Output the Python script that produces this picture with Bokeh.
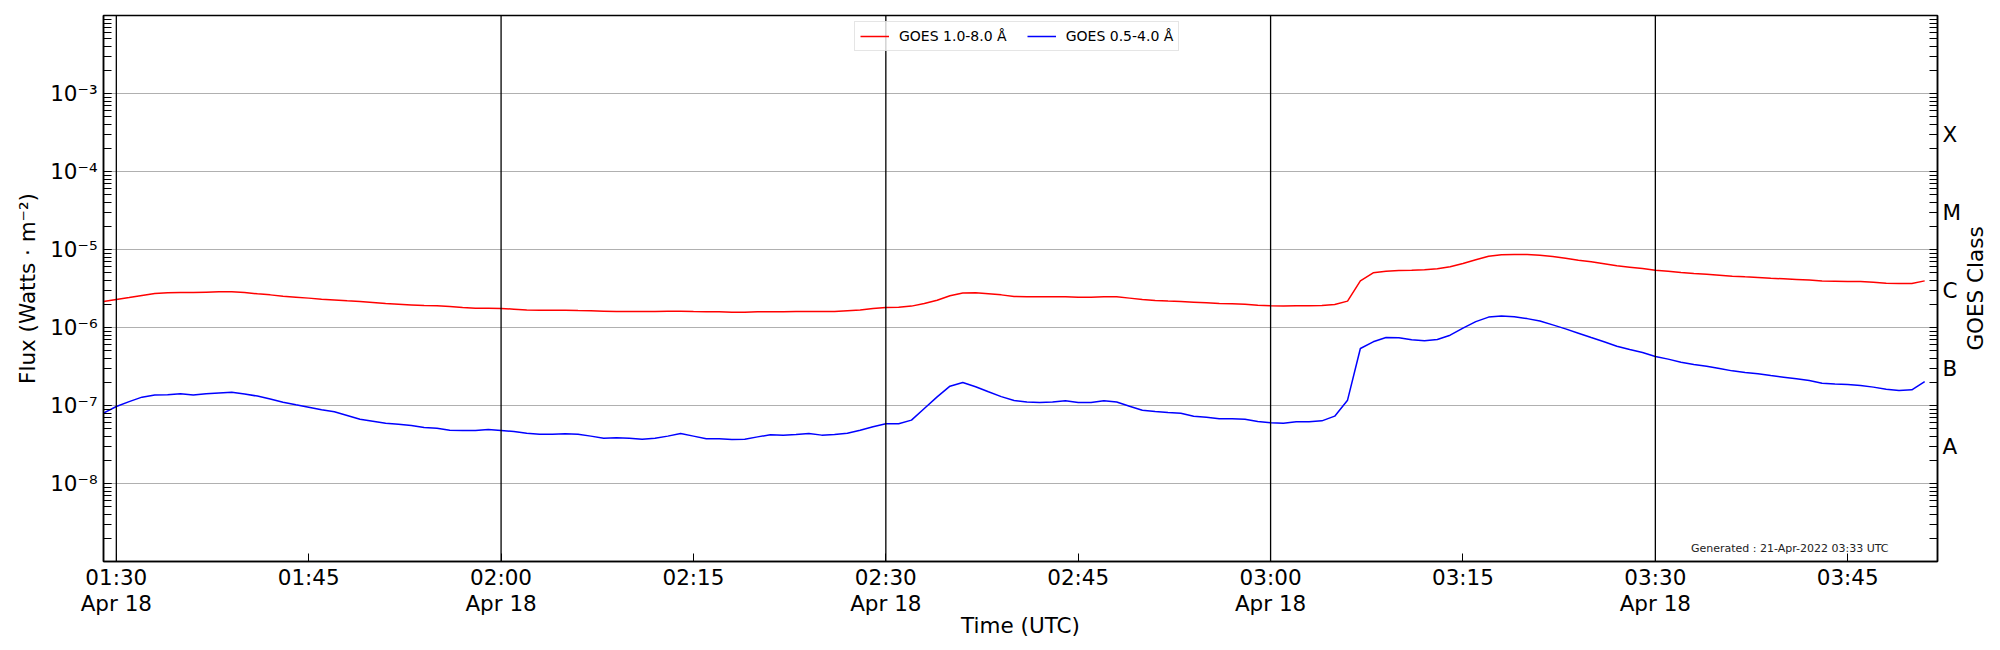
import math
import pandas as pd
from bokeh.plotting import figure
from bokeh.layouts import row
from bokeh.models import (LogAxis, FixedTicker, Span, Label, Legend, LegendItem,
                          ColumnDataSource, Range1d)
from bokeh.embed import file_html
from bokeh.resources import INLINE

# ---------------- data ----------------
start_time = "2022-04-18 01:29"
n_samples = 143  # one-minute cadence, 01:29 .. 03:51

xrs_long = [  # GOES 1.0-8.0 Å (W m^-2)
    2.15e-6, 2.29e-6, 2.42e-6, 2.57e-6, 2.73e-6, 2.78e-6, 2.81e-6, 2.81e-6, 2.84e-6, 2.87e-6,
    2.87e-6, 2.81e-6, 2.70e-6, 2.62e-6, 2.52e-6, 2.45e-6, 2.38e-6, 2.31e-6, 2.26e-6, 2.20e-6,
    2.15e-6, 2.09e-6, 2.03e-6, 1.99e-6, 1.95e-6, 1.91e-6, 1.90e-6, 1.86e-6, 1.81e-6, 1.77e-6,
    1.77e-6, 1.75e-6, 1.72e-6, 1.68e-6, 1.67e-6, 1.67e-6, 1.67e-6, 1.65e-6, 1.64e-6, 1.62e-6,
    1.60e-6, 1.60e-6, 1.60e-6, 1.60e-6, 1.62e-6, 1.62e-6, 1.60e-6, 1.59e-6, 1.59e-6, 1.57e-6,
    1.57e-6, 1.59e-6, 1.59e-6, 1.59e-6, 1.60e-6, 1.60e-6, 1.60e-6, 1.60e-6, 1.64e-6, 1.68e-6,
    1.75e-6, 1.81e-6, 1.82e-6, 1.88e-6, 2.03e-6, 2.24e-6, 2.55e-6, 2.76e-6, 2.78e-6, 2.70e-6,
    2.62e-6, 2.50e-6, 2.47e-6, 2.47e-6, 2.47e-6, 2.47e-6, 2.45e-6, 2.45e-6, 2.47e-6, 2.47e-6,
    2.38e-6, 2.29e-6, 2.22e-6, 2.18e-6, 2.15e-6, 2.11e-6, 2.07e-6, 2.03e-6, 2.01e-6, 1.99e-6,
    1.93e-6, 1.90e-6, 1.88e-6, 1.90e-6, 1.90e-6, 1.91e-6, 1.97e-6, 2.18e-6, 3.96e-6, 5.02e-6,
    5.28e-6, 5.38e-6, 5.43e-6, 5.49e-6, 5.65e-6, 6.00e-6, 6.61e-6, 7.37e-6, 8.21e-6, 8.54e-6,
    8.63e-6, 8.63e-6, 8.46e-6, 8.13e-6, 7.74e-6, 7.30e-6, 6.95e-6, 6.55e-6, 6.17e-6, 5.94e-6,
    5.71e-6, 5.43e-6, 5.28e-6, 5.07e-6, 4.92e-6, 4.83e-6, 4.69e-6, 4.55e-6, 4.46e-6, 4.38e-6,
    4.29e-6, 4.21e-6, 4.13e-6, 4.05e-6, 3.96e-6, 3.93e-6, 3.89e-6, 3.89e-6, 3.81e-6, 3.70e-6,
    3.67e-6, 3.67e-6, 3.96e-6,
]

xrs_short = [  # GOES 0.5-4.0 Å (W m^-2)
    7.97e-8, 9.71e-8, 1.12e-7, 1.28e-7, 1.36e-7, 1.37e-7, 1.41e-7, 1.36e-7, 1.41e-7, 1.45e-7,
    1.48e-7, 1.40e-7, 1.32e-7, 1.21e-7, 1.10e-7, 1.02e-7, 9.52e-8, 8.80e-8, 8.30e-8, 7.44e-8,
    6.68e-8, 6.30e-8, 5.94e-8, 5.76e-8, 5.54e-8, 5.22e-8, 5.12e-8, 4.83e-8, 4.78e-8, 4.78e-8,
    4.92e-8, 4.78e-8, 4.64e-8, 4.42e-8, 4.29e-8, 4.29e-8, 4.33e-8, 4.29e-8, 4.05e-8, 3.81e-8,
    3.85e-8, 3.81e-8, 3.70e-8, 3.81e-8, 4.05e-8, 4.38e-8, 4.05e-8, 3.74e-8, 3.74e-8, 3.67e-8,
    3.70e-8, 3.96e-8, 4.21e-8, 4.17e-8, 4.25e-8, 4.38e-8, 4.17e-8, 4.25e-8, 4.42e-8, 4.83e-8,
    5.33e-8, 5.82e-8, 5.82e-8, 6.49e-8, 9.15e-8, 1.29e-7, 1.77e-7, 1.97e-7, 1.74e-7, 1.50e-7,
    1.30e-7, 1.16e-7, 1.11e-7, 1.09e-7, 1.11e-7, 1.15e-7, 1.09e-7, 1.09e-7, 1.15e-7, 1.11e-7,
    9.80e-8, 8.71e-8, 8.38e-8, 8.13e-8, 7.97e-8, 7.30e-8, 7.09e-8, 6.75e-8, 6.75e-8, 6.68e-8,
    6.24e-8, 6.00e-8, 5.94e-8, 6.17e-8, 6.17e-8, 6.36e-8, 7.30e-8, 1.17e-7, 5.38e-7, 6.55e-7,
    7.44e-7, 7.37e-7, 6.95e-7, 6.75e-7, 7.02e-7, 7.97e-7, 9.80e-7, 1.19e-6, 1.36e-6, 1.40e-6,
    1.37e-6, 1.30e-6, 1.21e-6, 1.08e-6, 9.61e-7, 8.46e-7, 7.44e-7, 6.55e-7, 5.76e-7, 5.22e-7,
    4.78e-7, 4.25e-7, 3.93e-7, 3.59e-7, 3.36e-7, 3.19e-7, 2.98e-7, 2.78e-7, 2.65e-7, 2.55e-7,
    2.42e-7, 2.31e-7, 2.20e-7, 2.09e-7, 1.93e-7, 1.88e-7, 1.86e-7, 1.81e-7, 1.72e-7, 1.62e-7,
    1.56e-7, 1.59e-7, 2.03e-7,
]

x_limits = ["2022-04-18 01:29", "2022-04-18 03:52"]
y_limits = [1e-9, 1e-2]

x_tick_times = ["2022-04-18 01:30", "2022-04-18 01:45", "2022-04-18 02:00", "2022-04-18 02:15",
                "2022-04-18 02:30", "2022-04-18 02:45", "2022-04-18 03:00", "2022-04-18 03:15",
                "2022-04-18 03:30", "2022-04-18 03:45"]
x_tick_labels = ["01:30\nApr 18", "01:45", "02:00\nApr 18", "02:15", "02:30\nApr 18",
                 "02:45", "03:00\nApr 18", "03:15", "03:30\nApr 18", "03:45"]

vline_times = ["2022-04-18 01:30", "2022-04-18 02:00", "2022-04-18 02:30",
               "2022-04-18 03:00", "2022-04-18 03:30"]

flux_ticks = [1e-8, 1e-7, 1e-6, 1e-5, 1e-4, 1e-3]
flux_labels = ["10⁻⁸", "10⁻⁷", "10⁻⁶", "10⁻⁵", "10⁻⁴", "10⁻³"]

class_ticks = [3e-8, 3e-7, 3e-6, 3e-5, 3e-4]
class_labels = ["A", "B", "C", "M", "X"]
class_title = "GOES Class"

generated_text = "Generated : 21-Apr-2022 03:33 UTC"

# ---------------- helpers ----------------
def ms(ts):
    return pd.Timestamp(ts).value // 10**6

times = pd.date_range(start_time, periods=n_samples, freq="1min")
src = ColumnDataSource(dict(t=times, long=xrs_long, short=xrs_short))

FONT = "DejaVu Sans"
TICK_SIZE = "21.5px"
FRAME_W, FRAME_H = 1834, 546
RIGHT_BORDER = 25

p = figure(
    x_axis_type="datetime", y_axis_type="log",
    x_range=Range1d(ms(x_limits[0]), ms(x_limits[1])),
    y_range=Range1d(y_limits[0], y_limits[1]),
    frame_width=FRAME_W, frame_height=FRAME_H,
    min_border_left=103, min_border_top=15, min_border_right=RIGHT_BORDER, min_border_bottom=70,
    output_backend="svg", toolbar_location=None,
    background_fill_color="white", border_fill_color="white",
)
p.outline_line_color = "black"
p.outline_line_width = 1.5
p.outline_line_alpha = 1.0

# grid
p.xgrid.visible = False
p.ygrid.grid_line_color = "#b0b0b0"
p.ygrid.grid_line_width = 1.2
p.ygrid.minor_grid_line_color = None

minor_log = [k * 10.0 ** n for n in range(-9, -2) for k in range(1, 10)]

def style_axis(ax):
    ax.major_tick_out = 0
    ax.minor_tick_out = 0
    ax.axis_line_width = 1.5
    ax.axis_line_color = "black"
    ax.major_tick_line_color = "black"
    ax.minor_tick_line_color = "black"
    ax.major_label_text_font = FONT
    ax.major_label_text_font_size = TICK_SIZE
    ax.major_label_text_color = "black"
    ax.axis_label_text_font = FONT
    ax.axis_label_text_font_size = TICK_SIZE
    ax.axis_label_text_font_style = "normal"
    ax.axis_label_text_color = "black"

# bottom axis
xa = p.xaxis[0]
style_axis(xa)
xa.ticker = FixedTicker(ticks=[ms(t) for t in x_tick_times], minor_ticks=[])
xa.major_label_overrides = {ms(t): lab for t, lab in zip(x_tick_times, x_tick_labels)}
xa.major_tick_in = 8
xa.minor_tick_in = 0
xa.major_label_standoff = 3
xa.major_label_text_line_height = 1.05
xa.axis_label = "Time (UTC)"
xa.axis_label_standoff = -6

# left axis
ya = p.yaxis[0]
style_axis(ya)
ya.ticker = FixedTicker(ticks=flux_ticks, minor_ticks=minor_log)
ya.major_label_overrides = {v: lab for v, lab in zip(flux_ticks, flux_labels)}
ya.major_tick_in = 8
ya.minor_tick_in = 8
ya.major_label_standoff = 6
ya.axis_label = "Flux (Watts · m⁻²)"
ya.axis_label_standoff = 7

# right axis (GOES class)
ra = LogAxis(ticker=FixedTicker(ticks=class_ticks,
                                minor_ticks=[v for v in minor_log if v not in class_ticks]))
style_axis(ra)
ra.major_label_overrides = {v: lab for v, lab in zip(class_ticks, class_labels)}
ra.major_tick_in = 8
ra.minor_tick_in = 8
ra.major_label_standoff = 5
p.add_layout(ra, "right")

# curves
r_long = p.line("t", "long", source=src, line_color="#ff0000", line_width=1.5)
r_short = p.line("t", "short", source=src, line_color="#0000ff", line_width=1.5)

legend = Legend(
    items=[LegendItem(label="GOES 1.0-8.0 Å", renderers=[r_long]),
           LegendItem(label="GOES 0.5-4.0 Å", renderers=[r_short])],
    orientation="horizontal", location=(751, 510),
    label_text_font=FONT, label_text_font_size="14px", label_text_color="black",
    glyph_width=29, glyph_height=18, label_standoff=10, spacing=20,
    padding=5, margin=0,
    border_line_color="#cccccc", border_line_width=1,
    background_fill_color="white", background_fill_alpha=0.8,
)
p.add_layout(legend)

for t in vline_times:
    p.add_layout(Span(location=ms(t), dimension="height", line_color="black", line_width=1.3))

# "Generated" note, bottom-right inside the frame
p.add_layout(Label(x=FRAME_W - 49, y=13, x_units="screen", y_units="screen",
                   text=generated_text, text_align="right", text_baseline="alphabetic",
                   text_font=FONT, text_font_size="11px", text_color="#222222"))

# narrow side panel carrying the right-hand axis title (reads bottom to top)
SIDE_W, SIDE_H = 2000 - (103 + FRAME_W + RIGHT_BORDER), 620
side = figure(width=SIDE_W, height=SIDE_H, x_range=Range1d(0, 1), y_range=Range1d(0, 1),
              x_axis_location=None, y_axis_location=None, min_border=0,
              output_backend="svg", toolbar_location=None,
              background_fill_color="white", border_fill_color="white")
side.outline_line_color = None
side.xgrid.visible = False
side.ygrid.visible = False
side.add_layout(Label(x=11, y=253, x_units="screen", y_units="screen",
                      text=class_title, angle=math.pi / 2,
                      text_align="center", text_baseline="middle",
                      text_font=FONT, text_font_size=TICK_SIZE, text_color="black"))

layout = row(p, side, spacing=0)

open("out.html", "w").write(file_html(layout, INLINE))
